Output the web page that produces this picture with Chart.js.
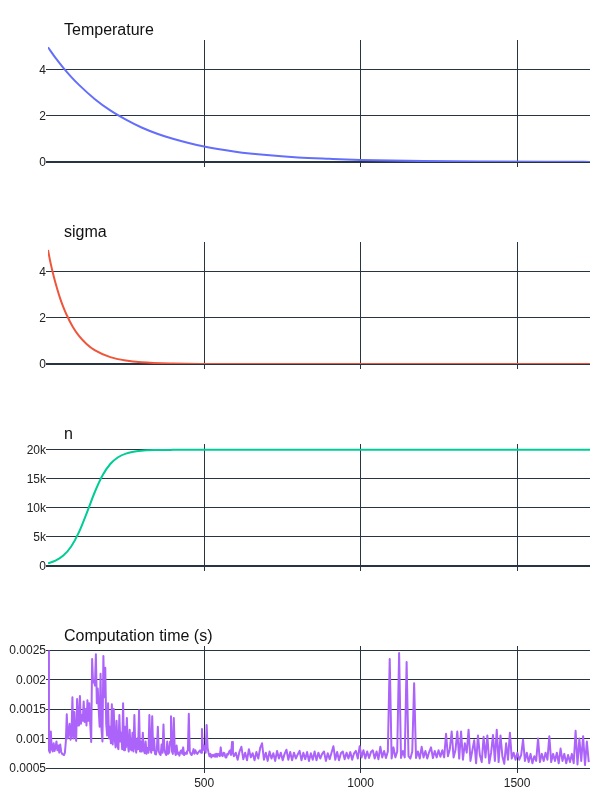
<!DOCTYPE html>
<html>
<head>
<meta charset="utf-8">
<title>Annealing run</title>
<script src="https://cdn.jsdelivr.net/npm/chart.js@4/dist/chart.umd.min.js"></script>
<style>
  body { margin: 0; background: #fff; }
  .panel { position: absolute; left: 0; }
</style>
</head>
<body>
<canvas id="tempChart" class="panel" width="600" height="194" style="top:0px"></canvas>
<canvas id="sigmaChart" class="panel" width="600" height="194" style="top:202px"></canvas>
<canvas id="nChart" class="panel" width="600" height="194" style="top:404px"></canvas>
<canvas id="timeChart" class="panel" width="600" height="194" style="top:606px"></canvas>
<script>
// iterations shared by all panels
const xMin = 1
const xMax = 1733
const xTicks = [500, 1000, 1500]

const tempX = [1, 25, 50, 75, 100, 150, 200, 250, 300, 350, 400, 500, 600, 700, 800, 900, 1000, 1200, 1400, 1600, 1733]
const tempY = [4.98, 4.52, 4.09, 3.70, 3.35, 2.74, 2.24, 1.84, 1.50, 1.23, 1.01, 0.67, 0.45, 0.30, 0.20, 0.14, 0.09, 0.04, 0.018, 0.008, 0.005]
const tempTicks = [0, 2, 4]

const sigmaX = [1, 10, 20, 30, 40, 50, 60, 80, 100, 125, 150, 200, 250, 300, 400, 500, 700, 1000, 1733]
const sigmaY = [4.95, 4.34, 3.77, 3.28, 2.84, 2.47, 2.15, 1.62, 1.22, 0.86, 0.60, 0.30, 0.15, 0.073, 0.018, 0.004, 0.0003, 0, 0]
const sigmaTicks = [0, 2, 4]

const nX = [1, 25, 50, 75, 100, 125, 150, 175, 200, 225, 250, 300, 350, 400, 500, 1000, 1733]
const nY = [476, 922, 1800, 3360, 5840, 9150, 12650, 15570, 17560, 18720, 19350, 19840, 19960, 19990, 20000, 20000, 20000]
const nTicks = [0, 5000, 10000, 15000, 20000]
const nTickLabels = ['0', '5k', '10k', '15k', '20k']

// computation time: read every 3 iterations up to 598, then every 6 from 601
const earlyStart = 1
const earlyStep = 3
const timeEarly = [
  0.00248, 0.00080, 0.00076, 0.00112, 0.00082, 0.00078, 0.00092, 0.00079, 0.00085, 0.00095,
  0.00080, 0.00088, 0.00076, 0.00090, 0.00078, 0.00074, 0.00073, 0.00072, 0.00076, 0.00095,
  0.00141, 0.00100, 0.00110, 0.00125, 0.00098, 0.00105, 0.00170, 0.00100, 0.00145, 0.00104,
  0.00096, 0.00167, 0.00122, 0.00138, 0.00172, 0.00125, 0.00140, 0.00130, 0.00163, 0.00128,
  0.00150, 0.00122, 0.00165, 0.00130, 0.00160, 0.00124, 0.00094, 0.00235, 0.00195, 0.00200,
  0.00190, 0.00243, 0.00160, 0.00185, 0.00150, 0.00120, 0.00210, 0.00115, 0.00095, 0.00240,
  0.00170, 0.00220, 0.00125, 0.00105, 0.00160, 0.00100, 0.00120, 0.00092, 0.00158, 0.00090,
  0.00150, 0.00100, 0.00085, 0.00130, 0.00088, 0.00082, 0.00140, 0.00095, 0.00110, 0.00082,
  0.00160, 0.00080, 0.00120, 0.00085, 0.00135, 0.00090, 0.00078, 0.00115, 0.00082, 0.00080,
  0.00110, 0.00078, 0.00140, 0.00085, 0.00076, 0.00100, 0.00082, 0.00148, 0.00078, 0.00095,
  0.00078, 0.00110, 0.00080, 0.00075, 0.00095, 0.00074, 0.00084, 0.00076, 0.00140, 0.00082,
  0.00076, 0.00138, 0.00080, 0.00100, 0.00074, 0.00073, 0.00082, 0.00120, 0.00078, 0.00074,
  0.00072, 0.00090, 0.00076, 0.00124, 0.00080, 0.00075, 0.00072, 0.00095, 0.00074, 0.00076,
  0.00095, 0.00138, 0.00078, 0.00074, 0.00135, 0.00080, 0.00072, 0.00088, 0.00074, 0.00076,
  0.00071, 0.00078, 0.00080, 0.00074, 0.00085, 0.00072, 0.00076, 0.00074, 0.00078, 0.00080,
  0.00142, 0.00078, 0.00074, 0.00072, 0.00076, 0.00082, 0.00074, 0.00080, 0.00076, 0.00074,
  0.00076, 0.00078, 0.00080, 0.00076, 0.00116, 0.00080, 0.00088, 0.00082, 0.00076, 0.00123,
  0.00084, 0.00076, 0.00070, 0.00074, 0.00068, 0.00072, 0.00070, 0.00073, 0.00069, 0.00074,
  0.00069, 0.00072, 0.00074, 0.00070, 0.00085, 0.00072, 0.00070, 0.00076, 0.00075, 0.00068,
  0.00068, 0.00074, 0.00073, 0.00078, 0.00080, 0.00072, 0.00094, 0.00076, 0.00070, 0.00073
]
const lateStart = 601
const lateStep = 6
const timeLate = [
  0.00076, 0.00064, 0.00078, 0.00086, 0.00065, 0.00076, 0.00063, 0.00082, 0.00068, 0.00075,
  0.00063, 0.00077, 0.00066, 0.00084, 0.00092, 0.00064, 0.00076, 0.00062, 0.00078, 0.00066,
  0.00075, 0.00062, 0.00079, 0.00066, 0.00076, 0.00063, 0.00074, 0.00081, 0.00064, 0.00077,
  0.00063, 0.00076, 0.00066, 0.00073, 0.00079, 0.00063, 0.00076, 0.00065, 0.00077, 0.00062,
  0.00075, 0.00064, 0.00078, 0.00063, 0.00076, 0.00066, 0.00074, 0.00078, 0.00062, 0.00075,
  0.00065, 0.00076, 0.00087, 0.00064, 0.00077, 0.00063, 0.00075, 0.00078, 0.00065, 0.00076,
  0.00066, 0.00077, 0.00064, 0.00075, 0.00079, 0.00066, 0.00087, 0.00068, 0.00080, 0.00066,
  0.00078, 0.00067, 0.00077, 0.00080, 0.00066, 0.00078, 0.00065, 0.00086, 0.00068, 0.00079,
  0.00067, 0.00078, 0.00235, 0.00066, 0.00085, 0.00068, 0.00078, 0.00245, 0.00067, 0.00079,
  0.00068, 0.00230, 0.00070, 0.00066, 0.00078, 0.00194, 0.00067, 0.00078, 0.00066, 0.00086,
  0.00068, 0.00079, 0.00066, 0.00077, 0.00085, 0.00067, 0.00079, 0.00068, 0.00080, 0.00069,
  0.00080, 0.00068, 0.00108, 0.00070, 0.00082, 0.00112, 0.00068, 0.00080, 0.00112, 0.00066,
  0.00112, 0.00064, 0.00092, 0.00076, 0.00115, 0.00062, 0.00080, 0.00097, 0.00058, 0.00105,
  0.00072, 0.00060, 0.00103, 0.00068, 0.00105, 0.00058, 0.00076, 0.00106, 0.00062, 0.00115,
  0.00060, 0.00105, 0.00070, 0.00057, 0.00092, 0.00064, 0.00110, 0.00066, 0.00076, 0.00064,
  0.00076, 0.00064, 0.00072, 0.00098, 0.00062, 0.00076, 0.00060, 0.00074, 0.00058, 0.00070,
  0.00062, 0.00100, 0.00060, 0.00074, 0.00062, 0.00076, 0.00064, 0.00104, 0.00060, 0.00074,
  0.00062, 0.00076, 0.00058, 0.00083, 0.00062, 0.00074, 0.00058, 0.00072, 0.00060, 0.00074,
  0.00058, 0.00113, 0.00056, 0.00100, 0.00062, 0.00104, 0.00055, 0.00095, 0.00060
]
const timeTicks = [0.0005, 0.001, 0.0015, 0.002, 0.0025]
const timeTickLabels = ['0.0005', '0.001', '0.0015', '0.002', '0.0025']

const gridColor = '#283442'
const fontFamily = '"Liberation Sans", Arial, sans-serif'

// draws the panel heading above the left part of the plot
const panelTitle = {
  id: 'panelTitle',
  afterDraw(chart, args, opts) {
    const ctx = chart.ctx
    ctx.save()
    ctx.font = '16px ' + fontFamily
    ctx.fillStyle = '#111'
    ctx.textBaseline = 'alphabetic'
    ctx.fillText(opts.text, chart.chartArea.left + 16, chart.chartArea.top - 5)
    ctx.restore()
  }
}

function makePanel(id, title, points, color, yMin, yMax, yTicks, yLabels, showX, smooth) {
  new Chart(document.getElementById(id), {
    type: 'line',
    data: {
      datasets: [{
        data: points,
        borderColor: color,
        borderWidth: 2,
        pointRadius: 0,
        fill: false,
        tension: 0,
        cubicInterpolationMode: smooth ? 'monotone' : 'default',
        borderJoinStyle: 'round'
      }]
    },
    options: {
      responsive: false,
      animation: false,
      events: [],
      layout: { padding: { top: 40, right: 10, left: 0, bottom: 0 } },
      plugins: {
        legend: { display: false },
        tooltip: { enabled: false },
        panelTitle: { text: title }
      },
      scales: {
        x: {
          type: 'linear',
          min: xMin,
          max: xMax,
          afterBuildTicks: axis => { axis.ticks = xTicks.map(v => ({ value: v })) },
          afterFit: axis => { axis.height = 32 },
          grid: { color: gridColor, lineWidth: 1, tickLength: 5, drawTicks: true },
          border: { display: false },
          ticks: {
            display: showX,
            padding: 3,
            color: '#222',
            font: { family: fontFamily, size: 12 },
            maxRotation: 0,
            callback: v => String(v)
          }
        },
        y: {
          type: 'linear',
          min: yMin,
          max: yMax,
          afterBuildTicks: axis => { axis.ticks = yTicks.map(v => ({ value: v })) },
          afterFit: axis => { axis.width = 48 },
          grid: {
            color: gridColor,
            lineWidth: c => (c.tick && c.tick.value === 0 ? 2 : 1),
            tickLength: 2,
            drawTicks: true
          },
          border: { display: false },
          ticks: {
            padding: 0,
            labelOffset: 1,
            color: '#222',
            font: { family: fontFamily, size: 12 },
            callback: (v, i) => yLabels[i]
          }
        }
      }
    },
    plugins: [panelTitle]
  })
}

const timePoints = timeEarly.map((y, i) => ({ x: earlyStart + earlyStep * i, y: y }))
  .concat(timeLate.map((y, i) => ({ x: lateStart + lateStep * i, y: y })))

makePanel('tempChart', 'Temperature', tempX.map((x, i) => ({ x: x, y: tempY[i] })),
  '#636efa', 0, 5.3, tempTicks, tempTicks.map(String), false, true)
makePanel('sigmaChart', 'sigma', sigmaX.map((x, i) => ({ x: x, y: sigmaY[i] })),
  '#ef553b', 0, 5.3, sigmaTicks, sigmaTicks.map(String), false, true)
makePanel('nChart', 'n', nX.map((x, i) => ({ x: x, y: nY[i] })),
  '#00cc96', 0, 21000, nTicks, nTickLabels, false, true)
makePanel('timeChart', 'Computation time (s)', timePoints,
  '#ab63fa', 0.0005, 0.00257, timeTicks, timeTickLabels, true, false)
</script>
</body>
</html>
